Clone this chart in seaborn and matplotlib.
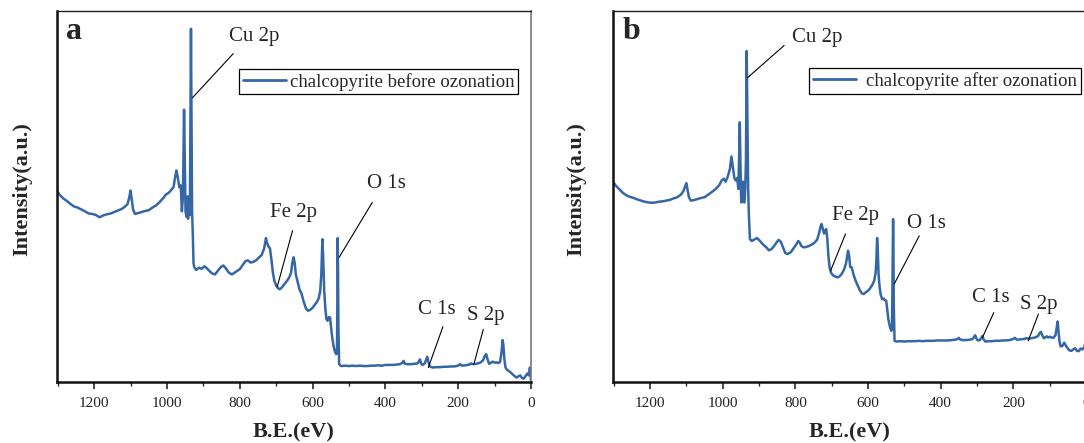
import matplotlib
matplotlib.use("Agg")
import matplotlib.pyplot as plt
from matplotlib.ticker import MultipleLocator
import seaborn as sns
import pandas as pd

# ---------------- data ----------------
be_a = [1302, 1295, 1285, 1275, 1265, 1255, 1245, 1235, 1225, 1215, 1205, 1195, 1185, 1175, 1165, 1155,
        1145, 1135, 1125, 1115, 1108, 1103, 1100, 1097, 1093, 1088, 1080, 1070, 1060, 1050, 1040, 1030,
        1020, 1010, 1003, 995, 988, 982, 977, 974, 970, 966, 962, 959, 956, 953, 951, 949, 946, 944, 942,
        939, 937, 935, 934, 933, 931, 929, 927, 925, 920, 912, 905, 897, 890, 882, 875, 868, 860, 852,
        845, 838, 830, 822, 815, 808, 800, 792, 785, 778, 770, 762, 755, 748, 740, 733, 728, 725, 721,
        717, 713, 709, 705, 700, 695, 690, 684, 678, 670, 664, 659, 655, 652, 649, 646, 641, 636, 630,
        624, 618, 612, 606, 600, 594, 588, 583, 579, 576, 574, 573, 571, 568, 565, 562, 559, 555, 552,
        549, 546, 542, 538, 535, 533, 532, 531, 530, 529, 527, 522, 510, 500, 490, 480, 470, 460, 450,
        440, 430, 420, 410, 400, 390, 380, 370, 360, 353, 350, 347, 340, 330, 320, 312, 307, 305, 302,
        298, 292, 288, 285, 282, 278, 270, 260, 250, 240, 230, 220, 210, 200, 195, 190, 180, 170, 165,
        160, 150, 140, 132, 127, 123, 119, 115, 110, 105, 100, 95, 90, 85, 81, 78, 76, 73, 70, 65, 60,
        55, 50, 45, 40, 35, 30, 25, 20, 15, 10, 6, 3, 1, 0]
int_a = [51.5, 50.5, 49.5, 48.8, 48.0, 47.3, 47.0, 46.5, 46.0, 45.4, 45.3, 45.0, 44.4, 44.9, 45.2, 45.4,
         45.8, 46.2, 46.6, 47.3, 48.0, 50.0, 51.6, 49.5, 46.5, 45.3, 45.5, 45.8, 46.1, 46.3, 47.0, 47.6,
         48.5, 49.6, 50.5, 51.0, 51.8, 52.5, 55.5, 57.0, 55.0, 52.5, 53.0, 46.0, 50.0, 73.4, 60.0, 46.0,
         44.5, 50.0, 44.0, 50.0, 45.0, 80.0, 95.2, 80.0, 46.0, 40.0, 32.0, 31.0, 30.2, 30.8, 30.5, 31.2,
         30.6, 29.8, 29.2, 29.0, 30.0, 31.0, 31.4, 30.6, 29.5, 29.0, 29.4, 29.9, 30.4, 31.5, 32.5, 32.8,
         32.2, 32.4, 32.8, 33.5, 34.2, 36.0, 38.8, 37.5, 36.5, 36.0, 33.0, 29.5, 27.3, 26.0, 25.3, 25.0,
         25.5, 26.3, 27.3, 28.2, 29.5, 32.5, 33.6, 32.0, 29.0, 27.0, 25.0, 23.7, 21.5, 19.8, 19.2, 19.5,
         20.0, 20.8, 21.6, 22.6, 24.5, 29.0, 36.0, 38.5, 34.0, 24.6, 20.0, 17.0, 16.5, 17.5, 17.4, 14.5,
         12.0, 9.5, 8.0, 7.5, 8.0, 20.0, 38.8, 30.0, 15.0, 4.8, 4.3, 4.4, 4.3, 4.4, 4.3, 4.4, 4.3, 4.3,
         4.4, 4.4, 4.5, 4.4, 4.6, 4.6, 4.6, 4.7, 4.8, 5.2, 5.7, 5.0, 4.8, 4.8, 4.9, 5.0, 5.7, 6.1, 5.0,
         4.6, 5.0, 6.0, 6.8, 5.5, 4.2, 3.9, 4.0, 4.0, 4.1, 4.1, 4.2, 4.2, 4.4, 4.8, 4.4, 4.5, 4.7, 5.0,
         4.8, 4.9, 5.2, 5.8, 7.0, 7.5, 6.0, 4.9, 5.2, 5.5, 5.2, 5.3, 5.1, 5.4, 8.0, 11.3, 10.0, 6.0, 3.9,
         3.2, 2.9, 2.5, 2.0, 1.6, 1.2, 1.5, 1.8, 1.1, 0.9, 1.6, 2.3, 1.8, 3.9, 2.0, 0.5]

be_b = [1302, 1295, 1285, 1275, 1265, 1255, 1245, 1235, 1225, 1215, 1205, 1195, 1185, 1175, 1165, 1155,
        1145, 1135, 1125, 1115, 1108, 1103, 1100, 1097, 1093, 1088, 1080, 1070, 1060, 1050, 1040, 1030,
        1020, 1010, 1003, 997, 992, 986, 980, 976, 972, 968, 964, 960, 957, 955, 953, 951, 949, 946, 944,
        942, 940, 938, 936, 934, 932, 930, 928, 925, 920, 913, 906, 900, 893, 886, 880, 873, 866, 859,
        852, 846, 840, 834, 828, 822, 815, 810, 804, 798, 792, 788, 783, 777, 770, 764, 758, 752, 746,
        740, 735, 731, 728, 725, 721, 718, 715, 712, 709, 706, 702, 697, 690, 684, 678, 672, 666, 661,
        658, 655, 652, 649, 645, 640, 635, 630, 623, 617, 612, 606, 600, 594, 588, 583, 579, 577, 575,
        573, 571, 568, 565, 561, 557, 553, 550, 547, 544, 540, 536, 534, 533, 531, 530, 529, 527, 522,
        510, 500, 490, 480, 470, 460, 450, 440, 430, 420, 410, 400, 390, 380, 370, 360, 353, 350, 347,
        340, 330, 320, 312, 308, 305, 302, 298, 292, 288, 285, 282, 277, 270, 260, 250, 240, 230, 220,
        210, 200, 196, 190, 180, 170, 165, 160, 150, 140, 132, 127, 124, 120, 116, 112, 108, 104, 100,
        95, 90, 84, 81, 78, 76, 73, 70, 65, 60, 56, 50, 45, 40, 35, 30, 25, 20, 15, 10, 5, 2, 0]
int_b = [54.0, 53.0, 52.0, 51.0, 50.3, 49.9, 49.6, 49.2, 48.9, 48.6, 48.4, 48.3, 48.4, 48.6, 48.7, 48.9,
         49.1, 49.5, 49.8, 50.5, 51.5, 52.8, 53.6, 52.0, 49.8, 48.9, 49.0, 49.3, 49.6, 49.8, 50.5, 51.2,
         52.0, 53.0, 54.3, 54.8, 54.0, 55.4, 57.5, 60.8, 58.0, 55.0, 54.3, 55.0, 52.0, 60.0, 70.0, 58.0,
         48.4, 50.0, 54.0, 48.5, 48.4, 52.0, 60.0, 89.2, 70.0, 52.5, 45.0, 38.5, 38.0, 38.4, 38.8, 38.3,
         37.5, 36.8, 36.3, 35.5, 35.8, 36.6, 37.6, 38.3, 37.8, 36.3, 34.8, 34.5, 34.8, 35.3, 36.2, 37.0,
         38.0, 37.6, 36.6, 36.3, 36.4, 36.6, 36.9, 37.2, 37.7, 38.4, 40.0, 41.8, 42.6, 41.5, 40.0, 40.8,
         41.2, 38.5, 34.0, 31.0, 29.5, 28.8, 28.4, 28.2, 28.5, 29.2, 30.3, 31.8, 33.5, 35.4, 34.0, 31.0,
         30.9, 29.0, 27.5, 26.4, 24.8, 23.9, 23.7, 24.2, 24.6, 25.3, 26.2, 27.3, 29.5, 33.0, 38.8, 35.0,
         29.0, 25.5, 23.5, 22.3, 22.5, 22.0, 21.9, 19.5, 16.9, 15.0, 13.8, 14.5, 25.0, 43.9, 35.0, 20.0,
         11.1, 10.9, 11.0, 10.9, 11.0, 11.0, 11.0, 11.1, 11.0, 11.1, 11.1, 11.1, 11.2, 11.2, 11.2, 11.2,
         11.3, 11.4, 11.6, 11.9, 11.5, 11.3, 11.3, 11.4, 11.6, 12.2, 12.6, 11.8, 11.2, 11.3, 11.9, 12.4,
         11.5, 10.9, 11.0, 11.0, 11.1, 11.1, 11.2, 11.2, 11.3, 11.6, 11.9, 11.4, 11.5, 11.6, 11.8, 11.7,
         11.8, 12.0, 12.4, 13.3, 13.5, 12.5, 11.8, 12.0, 12.3, 12.0, 12.2, 12.0, 11.9, 12.6, 14.5, 16.3,
         14.0, 11.0, 9.6, 9.7, 10.6, 9.9, 9.0, 8.5, 8.4, 8.8, 9.1, 8.4, 8.3, 9.0, 8.8, 9.3, 10.5, 11.0]

series_labels = ["chalcopyrite before ozonation", "chalcopyrite after ozonation"]
panel_letters = ["a", "b"]
xtick_values = [1200, 1000, 800, 600, 400, 200, 0]
peak_names = ["Cu 2p", "Fe 2p", "O 1s", "C 1s", "S 2p"]

# ---------------- style ----------------
sns.set_style("ticks")
plt.rcParams["font.family"] = ["Liberation Serif", "DejaVu Serif"]

LINE_COLOR = "#3566a6"

fig = plt.figure(figsize=(10.84, 4.43), dpi=100)
ax_a = fig.add_axes([57 / 1084, (443 - 382) / 443, (531 - 57) / 1084, 371 / 443])
ax_b = fig.add_axes([613 / 1084, (443 - 382) / 443, (1086 - 613) / 1084, 371 / 443])

# annotation layouts: (text position, line start, line end)
ann_a = [((760, 93.2), (930, 76.6), (818, 88.5)),
         ((653, 45.6), (655, 40.8), (697, 25.7)),
         ((398, 53.4), (436, 48.4), (527, 33.6)),
         ((259, 19.6), (242, 14.9), (282, 3.9)),
         ((125, 18.0), (131, 14.2), (157, 4.8))]
ann_b = [((739, 92.8), (831, 90.7), (932, 82.0)),
         ((634, 44.8), (662, 39.9), (703, 30.0)),
         ((438, 42.8), (459, 39.4), (528, 26.4)),
         ((261, 22.8), (254, 18.7), (285, 12.0)),
         ((129, 21.0), (131, 18.3), (159, 11.1))]

panels = [
    (ax_a, be_a, int_a, series_labels[0], panel_letters[0], ann_a, (0.9726, 0.8437), 0.2, -0.053),
    (ax_b, be_b, int_b, series_labels[1], panel_letters[1], ann_b, (0.9894, 0.846), 0.55, -0.057),
]

for ax, xs, ys, lab, letter, anns, lpos, htp, ylx in panels:
    df = pd.DataFrame({"BE": xs, "I": ys})
    sns.lineplot(data=df, x="BE", y="I", ax=ax, color=LINE_COLOR, lw=1.8,
                 label=lab, estimator=None, sort=False)
    ax.set_xlim(1302, 0)
    ax.set_ylim(0, 100)
    ax.set_yticks([])
    ax.set_xticks(xtick_values)
    ax.set_xticklabels([str(v) for v in xtick_values])
    ax.xaxis.set_minor_locator(MultipleLocator(100))
    ax.tick_params(axis="x", which="major", direction="out", length=5, width=1.2,
                   labelsize=11, pad=6, labelcolor="#222222")
    ax.tick_params(axis="x", which="minor", direction="out", length=3, width=1.0)
    ax.set_xlabel("B.E.(eV)", fontsize=16, fontweight="bold", labelpad=9)
    ax.set_ylabel("Intensity(a.u.)", fontsize=16, fontweight="bold")
    ax.yaxis.set_label_coords(ylx, 0.52)
    for side, lw, col in [("left", 1.8, "#111111"), ("bottom", 1.8, "#111111"),
                          ("top", 1.0, "#222222"), ("right", 1.2, "#777777")]:
        ax.spines[side].set_visible(True)
        ax.spines[side].set_linewidth(lw)
        ax.spines[side].set_color(col)

    ax.text(0.02, 0.925, letter, transform=ax.transAxes, fontsize=23,
            fontweight="bold", ha="left", va="baseline")

    for name, (tpos, p0, p1) in zip(peak_names, anns):
        ax.text(tpos[0], tpos[1], name, fontsize=15, ha="center", va="center")
        ax.annotate("", xy=p1, xytext=p0,
                    arrowprops=dict(arrowstyle="-", lw=0.8, color="black",
                                    shrinkA=0, shrinkB=0))

    leg = ax.legend(loc="upper right", bbox_to_anchor=lpos, borderaxespad=0,
                    fontsize=13.5, frameon=True, fancybox=False, framealpha=1,
                    edgecolor="black", handlelength=2.3, handletextpad=htp,
                    borderpad=0.2)
    leg.get_frame().set_linewidth(0.9)
    for h in leg.get_lines():
        h.set_linewidth(2.0)

fig.savefig("out.png", dpi=100)
